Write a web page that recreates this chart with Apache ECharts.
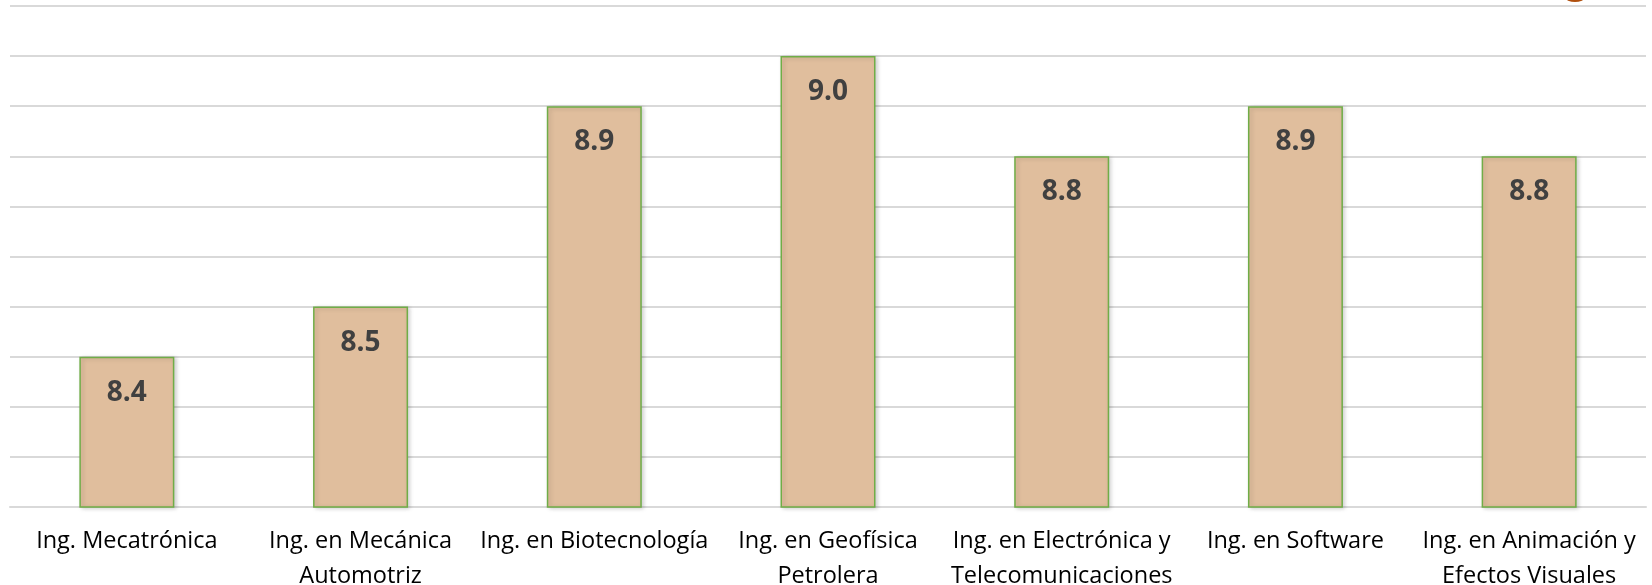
<!DOCTYPE html>
<html>
<head>
<meta charset="utf-8">
<script src="https://cdn.jsdelivr.net/npm/echarts@6/dist/echarts.min.js"></script>
<style>
  html, body { margin: 0; padding: 0; background: #fff; }
  #main { width: 1652px; height: 585px; }
</style>
</head>
<body>
<div id="main"></div>
<script>
"use strict";

// carreras (categorias)
var categorias = [
  "Ing. Mecatrónica",
  "Ing. en Mecánica\nAutomotriz",
  "Ing. en Biotecnología",
  "Ing. en Geofísica\nPetrolera",
  "Ing. en Electrónica y\nTelecomunicaciones",
  "Ing. en Software",
  "Ing. en Animación y\nEfectos Visuales"
];
// promedio por carrera
var promedios = [8.4, 8.5, 8.9, 9.0, 8.8, 8.9, 8.8];
// escala del eje
var ejeMin = 8.1;
var ejeMax = 9.1;
var ejePaso = 0.1;

var chart = echarts.init(document.getElementById("main"));

var option = {
  animation: false,
  textStyle: { fontFamily: "Open Sans" },
  grid: {
    left: 10, right: 6, top: 6, bottom: 78,
    containLabel: false,
    outerBoundsMode: "none"
  },
  xAxis: {
    type: "category",
    data: categorias,
    axisTick: { show: false },
    axisLine: { lineStyle: { color: "#D9D9D9", width: 2 } },
    axisLabel: {
      interval: 0,
      margin: 17,
      color: "#000",
      fontSize: 23.5,
      lineHeight: 35,
      fontFamily: "Open Sans"
    }
  },
  yAxis: {
    type: "value",
    min: ejeMin,
    max: ejeMax,
    interval: ejePaso,
    axisLabel: { show: false },
    axisLine: { show: false },
    axisTick: { show: false },
    splitLine: { lineStyle: { color: "#D9D9D9", width: 2 } }
  },
  series: [{
    type: "bar",
    data: promedios,
    barWidth: 95,
    itemStyle: {
      color: "#E0BE9D",
      borderColor: "#70AD47",
      borderWidth: 1.5,
      shadowColor: "rgba(0,0,0,0.18)",
      shadowBlur: 4,
      shadowOffsetX: 2,
      shadowOffsetY: 1
    },
    label: {
      show: true,
      position: "insideTop",
      distance: 22,
      color: "#404040",
      fontSize: 28,
      fontWeight: "bold",
      fontFamily: "Open Sans",
      formatter: function (p) {
        return p.value.toFixed(1);
      }
    }
  }],
  graphic: [{
    // logo recortado arriba a la derecha
    type: "circle",
    shape: { cx: 1575, cy: -16, r: 18 },
    style: { fill: "#B0500E" },
    z: 10
  }]
};

chart.setOption(option);
</script>
</body>
</html>
